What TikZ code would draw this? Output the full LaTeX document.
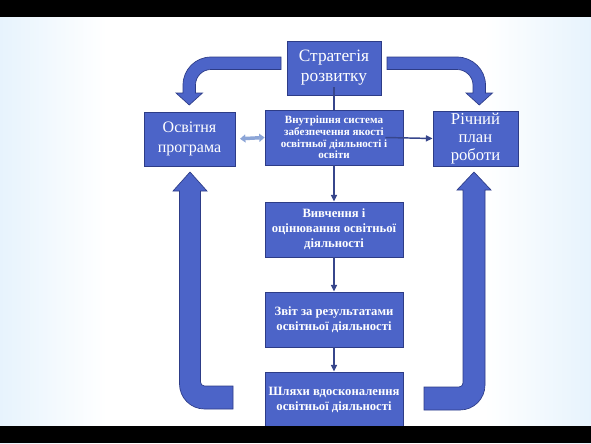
\documentclass[tikz,border=0pt]{standalone}
\usepackage{fontspec}
\setmainfont{Liberation Serif}
\usetikzlibrary{arrows.meta}
\definecolor{boxblue}{RGB}{76,100,200}
\definecolor{boxedge}{RGB}{45,60,135}
\definecolor{bgblue}{RGB}{158,208,245}
\definecolor{bgmid}{RGB}{212,234,251}
\definecolor{lineblue}{RGB}{55,70,140}
\definecolor{dblarrow}{RGB}{140,165,215}
\pgfdeclarehorizontalshading{bgshade}{100bp}{color(0bp)=(bgblue); color(18bp)=(bgmid); color(34bp)=(white); color(66bp)=(white); color(82bp)=(bgmid); color(100bp)=(bgblue)}
\begin{document}
\begin{tikzpicture}[x=0.75pt,y=-0.75pt,
  box/.style={draw=boxedge, line width=0.6pt, fill=boxblue, text=white, inner sep=0pt, align=center},
  stratfont/.style={font=\fontsize{13}{15}\selectfont},
  bigfont/.style={font=\fontsize{12}{15}\selectfont},
  smallbold/.style={font=\bfseries\fontsize{8.3}{8.8}\selectfont},
  midbold/.style={font=\bfseries\fontsize{9.5}{11.25}\selectfont},
  bigarrow/.style={fill=boxblue, draw=boxedge, line width=0.5pt},
  thin/.style={draw=lineblue, line width=1.1pt},
  thinarrow/.style={thin, -{Triangle[length=5pt,width=4.5pt]}}]
% background
\shade[shading=bgshade] (0,0) rectangle (591,443);
\useasboundingbox (0,0) rectangle (591,443);

% boxes
\node[box, stratfont, minimum width=70.5pt, minimum height=40.5pt] (strat) at (334,68) {Стратегія\\розвитку};
\node[box, bigfont, minimum width=68.25pt, minimum height=40.5pt] (osv) at (189.5,139) {Освітня\\програма};
\node[box, smallbold, minimum width=103.5pt, minimum height=41.25pt] (vnut) at (334,137.5) {Внутрішня система\\забезпечення якості\\освітньої діяльності і\\освіти};
\node[box, font=\fontsize{12.5}{13.5}\selectfont, minimum width=63.75pt, minimum height=41.25pt] (rich) at (475.5,138.5) {Річний\\план\\роботи};
\node[box, midbold, minimum width=103.5pt, minimum height=41.25pt] (vyv) at (334,229.5) {Вивчення і\\оцінювання освітньої\\діяльності};
\node[box, midbold, minimum width=103.5pt, minimum height=41.25pt] (zvit) at (334,319.5) {Звіт за результатами\\освітньої діяльності};
\node[box, midbold, minimum width=103.5pt, minimum height=42pt] (shl) at (334,400) {Шляхи вдосконалення\\освітньої діяльності};

% thin connectors
\draw[thin] ([yshift=6pt]strat.south) -- (vnut.north);
\draw[thinarrow] (vnut) -- (vyv);
\draw[thinarrow] (vyv) -- (zvit);
\draw[thinarrow] (zvit) -- (shl);
\draw[thinarrow] ([xshift=-13.5pt]vnut.east) -- (rich.west);
\draw[draw=dblarrow, line width=2.6pt, {Triangle[length=4pt,width=6pt]}-{Triangle[length=4pt,width=6pt]}, shorten <=3.5pt] (osv.east) -- (vnut.west);

% big bent arrows (top)
\path[bigarrow] (281,57) -- (211,57) .. controls (195.5,57) and (183,69.5) .. (183,85) -- (183,93) -- (176,93) -- (189.25,105) -- (202.5,93) -- (195.5,93) -- (195.5,85) .. controls (195.5,76.44) and (202.44,69.5) .. (211,69.5) -- (281,69.5) -- cycle;
\path[bigarrow] (387,57) -- (457,57) .. controls (472.5,57) and (485.5,69.5) .. (485.5,85) -- (485.5,93) -- (492.5,93) -- (479.25,105) -- (466,93) -- (473,93) -- (473,85) .. controls (473,76.44) and (465.56,69.5) .. (457,69.5) -- (387,69.5) -- cycle;

% big bent arrows (bottom)
\path[bigarrow] (190,172) -- (207,191) -- (200.5,191) -- (200.5,382) .. controls (200.5,384.2) and (202.3,386) .. (204.5,386) -- (233,386) -- (233,409) -- (204.5,409) .. controls (190.7,409) and (179.5,397.8) .. (179.5,384) -- (179.5,191) -- (173,191) -- cycle;
\path[bigarrow] (474,172) -- (491,190) -- (485,190) -- (485,385) .. controls (485,398.8) and (473.8,410) .. (460,410) -- (424,410) -- (424,387) -- (459,387) .. controls (461.2,387) and (463,385.2) .. (463,383) -- (463,190) -- (457,190) -- cycle;

% black bands
\fill[black] (0,0) rectangle (591,17);
\fill[black] (0,426) rectangle (591,443);
\end{tikzpicture}
\end{document}
